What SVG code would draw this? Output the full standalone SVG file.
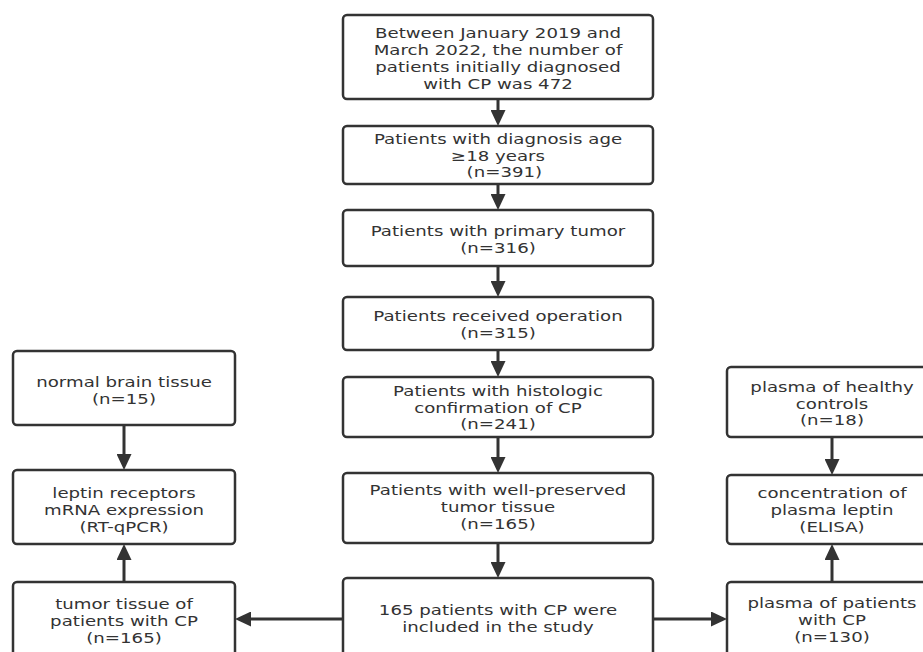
<svg xmlns="http://www.w3.org/2000/svg" width="923" height="652" viewBox="0 0 923 652">
<style>
  .box{fill:#fff;stroke:#333;stroke-width:2.5}
  .t{font-family:"DejaVu Sans","Open Sans",sans-serif;font-size:14.2px;fill:#333;text-anchor:middle}
  .c{stroke:#333;stroke-width:3;fill:none}
</style>
<defs>
  <marker id="ah" viewBox="0 0 16 15" refX="0" refY="7.5" markerWidth="16" markerHeight="15" markerUnits="userSpaceOnUse" orient="auto">
    <path d="M0,0 L16,7.5 L0,15 z" fill="#333"/>
  </marker>
</defs>
<rect width="923" height="652" fill="#fff"/>
<g id="connectors" class="c">
  <line x1="498" y1="99" x2="498" y2="110" marker-end="url(#ah)"/>
  <line x1="498" y1="184" x2="498" y2="194" marker-end="url(#ah)"/>
  <line x1="498" y1="266" x2="498" y2="281" marker-end="url(#ah)"/>
  <line x1="498" y1="350" x2="498" y2="361" marker-end="url(#ah)"/>
  <line x1="498" y1="437" x2="498" y2="457" marker-end="url(#ah)"/>
  <line x1="498" y1="543" x2="498" y2="562" marker-end="url(#ah)"/>
  <line x1="343" y1="619" x2="251" y2="619" marker-end="url(#ah)"/>
  <line x1="653" y1="619" x2="711" y2="619" marker-end="url(#ah)"/>
  <line x1="124" y1="425" x2="124" y2="454" marker-end="url(#ah)"/>
  <line x1="124" y1="582" x2="124" y2="560" marker-end="url(#ah)"/>
  <line x1="832" y1="437" x2="832" y2="459" marker-end="url(#ah)"/>
  <line x1="832" y1="582" x2="832" y2="560" marker-end="url(#ah)"/>
</g>
<g id="n1"><rect class="box" x="343" y="15" width="310" height="84" rx="4"/>
  <text class="t" transform="translate(498 0) scale(1.28 1)"><tspan x="0" y="38.5">Between January 2019 and</tspan><tspan x="0" y="55.2">March 2022, the number of</tspan><tspan x="0" y="71.9">patients initially diagnosed</tspan><tspan x="0" y="88.6">with CP was 472</tspan></text></g>
<g id="n2"><rect class="box" x="343" y="126" width="310" height="58" rx="4"/>
  <text class="t" transform="translate(498 0) scale(1.28 1)"><tspan x="0" y="144">Patients with diagnosis age</tspan><tspan x="0" y="160.7">≥18 years</tspan><tspan x="5" y="177.4">(n=391)</tspan></text></g>
<g id="n3"><rect class="box" x="343" y="210" width="310" height="56" rx="4"/>
  <text class="t" transform="translate(498 0) scale(1.28 1)"><tspan x="0" y="235.7">Patients with primary tumor</tspan><tspan x="0" y="252.7">(n=316)</tspan></text></g>
<g id="n4"><rect class="box" x="343" y="297" width="310" height="53" rx="4"/>
  <text class="t" transform="translate(498 0) scale(1.28 1)"><tspan x="0" y="321">Patients received operation</tspan><tspan x="0" y="338">(n=315)</tspan></text></g>
<g id="n5"><rect class="box" x="343" y="377" width="310" height="60" rx="4"/>
  <text class="t" transform="translate(498 0) scale(1.28 1)"><tspan x="0" y="396">Patients with histologic</tspan><tspan x="0" y="412.7">confirmation of CP</tspan><tspan x="0" y="429.4">(n=241)</tspan></text></g>
<g id="n6"><rect class="box" x="343" y="473" width="310" height="70" rx="4"/>
  <text class="t" transform="translate(498 0) scale(1.28 1)"><tspan x="0" y="495.5">Patients with well-preserved</tspan><tspan x="0" y="512.5">tumor tissue</tspan><tspan x="0" y="529.5">(n=165)</tspan></text></g>
<g id="n7"><rect class="box" x="343" y="578" width="310" height="90" rx="4"/>
  <text class="t" transform="translate(498 0) scale(1.28 1)"><tspan x="0" y="615">165 patients with CP were</tspan><tspan x="0" y="632">included in the study</tspan></text></g>
<g id="l1"><rect class="box" x="13" y="351" width="222" height="74" rx="4"/>
  <text class="t" transform="translate(124 0) scale(1.28 1)"><tspan x="0" y="387">normal brain tissue</tspan><tspan x="0" y="403.7">(n=15)</tspan></text></g>
<g id="l2"><rect class="box" x="13" y="470" width="222" height="74" rx="4"/>
  <text class="t" transform="translate(124 0) scale(1.28 1)"><tspan x="0" y="498">leptin receptors</tspan><tspan x="0" y="515">mRNA expression</tspan><tspan x="0" y="532">(RT-qPCR)</tspan></text></g>
<g id="l3"><rect class="box" x="13" y="582" width="222" height="90" rx="4"/>
  <text class="t" transform="translate(124 0) scale(1.28 1)"><tspan x="0" y="609">tumor tissue of</tspan><tspan x="0" y="626">patients with CP</tspan><tspan x="0" y="642.6">(n=165)</tspan></text></g>
<g id="r1"><rect class="box" x="727" y="367" width="210" height="70" rx="4"/>
  <text class="t" transform="translate(832 0) scale(1.28 1)"><tspan x="0" y="392">plasma of healthy</tspan><tspan x="0" y="408.7">controls</tspan><tspan x="0" y="425.4">(n=18)</tspan></text></g>
<g id="r2"><rect class="box" x="727" y="475" width="210" height="69" rx="4"/>
  <text class="t" transform="translate(832 0) scale(1.28 1)"><tspan x="0" y="498">concentration of</tspan><tspan x="0" y="515">plasma leptin</tspan><tspan x="0" y="532">(ELISA)</tspan></text></g>
<g id="r3"><rect class="box" x="727" y="582" width="210" height="90" rx="4"/>
  <text class="t" transform="translate(832 0) scale(1.28 1)"><tspan x="0" y="608.5">plasma of patients</tspan><tspan x="0" y="625.2">with CP</tspan><tspan x="0" y="641.9">(n=130)</tspan></text></g>
</svg>
